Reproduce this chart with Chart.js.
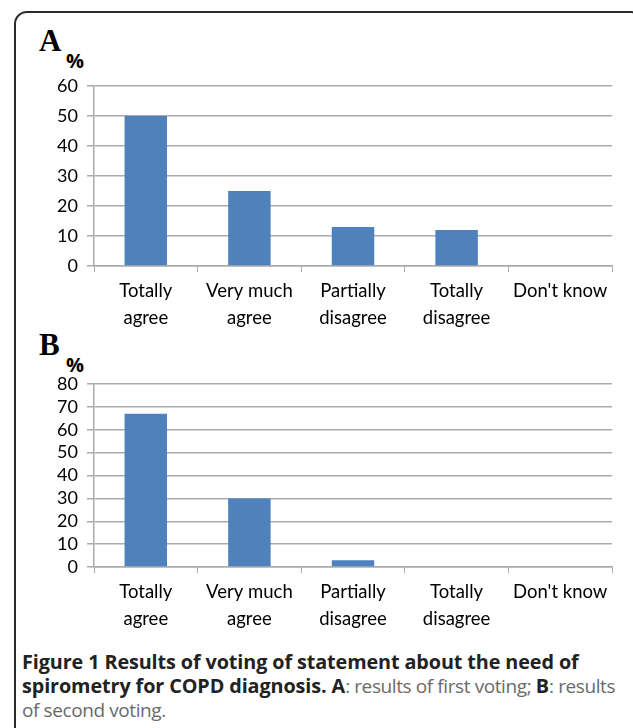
<!DOCTYPE html>
<html>
<head>
<meta charset="utf-8">
<script src="https://cdn.jsdelivr.net/npm/chart.js@4"></script>
<style>
  html, body { margin: 0; padding: 0; background: #fff; }
  body { width: 633px; height: 728px; position: relative; overflow: hidden; }
  .frame {
    position: absolute; left: 14px; top: 11px; width: 630px; height: 730px;
    border: 2px solid #2b2b2b; border-radius: 13px; box-sizing: border-box;
  }
  .panel { position: absolute; left: 0; width: 633px; }
  .letter {
    position: absolute; font-family: "Liberation Serif", serif; font-weight: bold;
    font-size: 31px; color: #000; line-height: 1;
  }
  .pct {
    position: absolute; font-family: "Open Sans", sans-serif; font-weight: bold;
    font-size: 20px; color: #000; line-height: 1;
  }
  .caption {
    position: absolute; left: 22px; top: 650px; white-space: nowrap;
    font-family: "Open Sans", sans-serif; font-size: 19.8px; line-height: 23.5px;
    color: #6a6a6a; letter-spacing: -0.1px;
  }
  .caption b { color: #222; }
  .caption span { font-size: 19px; letter-spacing: -0.4px; }
</style>
</head>
<body>
<div class="frame"></div>
<div class="letter" style="left:39px;top:25px;">A</div>
<div class="pct" style="left:66px;top:51px;">%</div>
<div class="letter" style="left:39px;top:329px;">B</div>
<div class="pct" style="left:66px;top:355px;">%</div>
<div class="panel" style="top:0;height:340px;"><canvas id="chartA"></canvas></div>
<div class="panel" style="top:340px;height:300px;"><canvas id="chartB"></canvas></div>
<div class="caption"><b>Figure 1 Results of voting of statement about the need of</b><br><b>spirometry for COPD diagnosis. A</b><span>: results of first voting; </span><b>B</b><span>: results</span><br><span>of second voting.</span></div>
<script>
const categories = [
  ["Totally", "agree"],
  ["Very much", "agree"],
  ["Partially", "disagree"],
  ["Totally", "disagree"],
  "Don't know"
];
const firstVoting = [50, 25, 13, 12, 0];
const secondVoting = [67, 30, 3, 0, 0];
const ticksA = { max: 60, step: 10 };
const ticksB = { max: 80, step: 10 };

const barColor = "#4f81bd";
const gridColor = "#ababab";
const font = "Lato, 'Open Sans', sans-serif";

function makeChart(id, values, yTicks, topPad, xAxisHeight) {
  return new Chart(document.getElementById(id), {
    type: "bar",
    data: {
      labels: categories,
      datasets: [{
        data: values,
        backgroundColor: barColor,
        borderWidth: 0,
        categoryPercentage: 1,
        barPercentage: 0.41
      }]
    },
    options: {
      responsive: true,
      maintainAspectRatio: false,
      animation: false,
      layout: { padding: { top: topPad, right: 21, bottom: 0, left: 0 } },
      plugins: { legend: { display: false }, tooltip: { enabled: false } },
      scales: {
        x: {
          grid: { offset: true, drawOnChartArea: false, drawTicks: true, tickLength: 6, color: gridColor },
          border: { color: gridColor, width: 1.5 },
          ticks: { color: "#000", font: { family: font, size: 18.5, lineHeight: 1.45 }, padding: 6, maxRotation: 0, autoSkip: false },
          afterFit: (s) => { s.height = xAxisHeight; }
        },
        y: {
          min: 0,
          max: yTicks.max,
          grid: { color: gridColor, lineWidth: 1.5, tickLength: 7 },
          border: { color: gridColor, width: 1.5 },
          ticks: { stepSize: yTicks.step, autoSkip: false, color: "#000", font: { family: font, size: 18 }, padding: 9 },
          afterFit: (s) => { s.width = 94; }
        }
      }
    }
  });
}

makeChart("chartA", firstVoting, ticksA, 86, 74);
makeChart("chartB", secondVoting, ticksB, 44, 73);
</script>
</body>
</html>
